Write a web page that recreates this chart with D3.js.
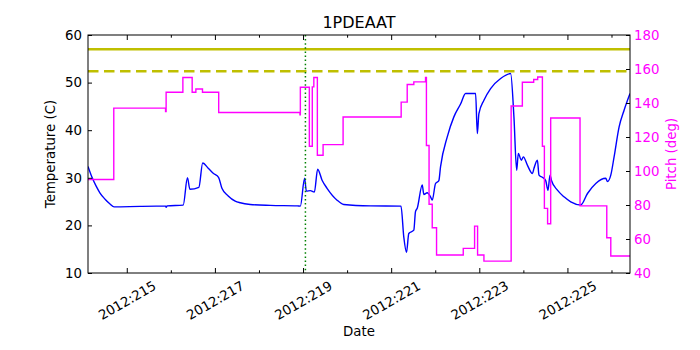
<!DOCTYPE html>
<html>
<head>
<meta charset="utf-8">
<script src="https://cdn.jsdelivr.net/npm/d3@7"></script>
<style>
  body { margin: 0; background: #fff; }
  svg { font-family: "DejaVu Sans", sans-serif; }
</style>
</head>
<body>
<script>
var w = 700;
var h = 350;

const margin = {top: 35, right: 70, bottom: 77, left: 88};
const width = w - margin.left - margin.right,
    height = h - margin.top - margin.bottom;

// day of year 2012
var tempDays = [214.12, 214.211, 214.302, 214.393, 214.507, 214.620, 214.711, 215.302, 215.882, 215.893, 215.916,
    216.280, 216.377, 216.432, 216.636, 216.723, 216.848, 216.968, 217.082, 217.159, 217.302, 217.461, 217.575,
    217.802, 218.257, 218.870, 218.939, 219.036, 219.075, 219.166, 219.257, 219.332, 219.432, 219.545, 219.773,
    219.923, 220.530, 221.223, 221.286, 221.348, 221.400, 221.514, 221.552, 221.591, 221.705, 221.741, 221.818,
    221.893, 221.932, 222.007, 222.082, 222.120, 222.273, 222.423, 222.575, 222.689, 222.916, 222.955, 222.991,
    223.105, 223.257, 223.484, 223.711, 223.786, 223.848, 223.886, 223.955, 224.000, 224.091, 224.205, 224.241,
    224.318, 224.355, 224.432, 224.507, 224.559, 224.605, 224.636, 224.773, 224.923, 225.075, 225.302, 225.455,
    225.643, 225.870, 225.909, 225.984, 226.059, 226.173, 226.286, 226.42];
var tempVals = [32.4, 30.1, 28.3, 26.8, 25.5, 24.5, 23.9, 24.0, 24.05, 23.8, 24.1,
    24.25, 30.0, 27.6, 28.0, 33.1, 32.0, 30.9, 30.1, 27.8, 26.2, 25.1, 24.75,
    24.4, 24.2, 24.1, 24.05, 29.9, 27.2, 27.3, 27.0, 31.8, 29.5, 27.8, 25.3,
    24.4, 24.1, 24.05, 17.6, 14.35, 18.3, 19.0, 22.9, 23.6, 28.5, 26.5, 26.85,
    26.0, 25.3, 28.8, 29.4, 32.3, 38.6, 42.8, 45.5, 47.7, 47.7, 39.3, 43.5,
    46.3, 48.75, 50.85, 51.9, 42.8, 31.6, 35.1, 33.7, 34.4, 32.65, 30.9, 32.0,
    33.7, 30.56, 30.1, 29.4, 27.4, 30.56, 29.5, 27.4, 26.0, 24.96, 24.3, 26.7,
    28.8, 29.9, 29.2, 30.56, 34.4, 40.7, 44.2, 47.7];

var pitchDays = [214.12, 214.705, 215.880, 215.893, 216.273, 216.484, 216.568, 216.718, 217.086, 218.930, 218.939,
    219.143, 219.210, 219.245, 219.325, 219.455, 219.909, 221.227, 221.364, 221.514, 221.780, 221.800, 221.860,
    221.932, 222.030, 222.636, 222.893, 222.961, 223.105, 223.723, 223.977, 224.234, 224.325, 224.432, 224.477,
    224.550, 224.620, 225.286, 225.893, 225.984, 226.42];
var pitchVals = [95, 137, 135, 146.3, 155, 146.3, 148.2, 146.3, 134.4, 133, 149.3,
    114.6, 149.5, 155, 109.3, 115.5, 131.8, 140.5, 150.9, 152.4, 155, 115, 80.4,
    66.6, 50.6, 54.5, 67.6, 50.6, 47, 138.2, 152.2, 153.8, 155.3, 114.6, 78,
    69, 131.2, 79.5, 60.7, 50, 50];

var labelDays = [215, 217, 219, 221, 223, 225];
var minorDays = [216, 218, 220, 222, 224, 226];
var tempTicks = [10, 20, 30, 40, 50, 60];
var pitchTicks = [40, 60, 80, 100, 120, 140, 160, 180];

var limitSolid = 57;
var limitDashed = 52.4;
var markDay = 219.054;

const svg = d3.select("body").append("svg")
    .attr("width", w)
    .attr("height", h);

const g = svg.append("g")
    .attr("transform", "translate(" + margin.left + "," + margin.top + ")");

var x = d3.scaleLinear().domain([214.12, 226.42]).range([0, width]);
var yT = d3.scaleLinear().domain([10, 60]).range([height, 0]);
var yP = d3.scaleLinear().domain([40, 180]).range([height, 0]);

g.append("clipPath").attr("id", "clip")
    .append("rect").attr("width", width).attr("height", height);

var plot = g.append("g").attr("clip-path", "url(#clip)");

var tempData = tempDays.map((d, i) => ({day: d, v: tempVals[i]}));
var pitchData = pitchDays.map((d, i) => ({day: d, v: pitchVals[i]}));

// temperature
plot.append("path")
    .datum(tempData)
    .attr("fill", "none")
    .attr("stroke", "#0000ff")
    .attr("stroke-width", 1.4)
    .attr("d", d3.line().curve(d3.curveMonotoneX).x(d => x(d.day)).y(d => yT(d.v)));

// limits
plot.append("line")
    .attr("x1", 0).attr("x2", width)
    .attr("y1", yT(limitSolid)).attr("y2", yT(limitSolid))
    .attr("stroke", "#bfbf00").attr("stroke-width", 2.5);

plot.append("line")
    .attr("x1", 0).attr("x2", width)
    .attr("y1", yT(limitDashed)).attr("y2", yT(limitDashed))
    .attr("stroke", "#bfbf00").attr("stroke-width", 2.5)
    .attr("stroke-dasharray", "10.5,5.5");

plot.append("line")
    .attr("x1", x(markDay)).attr("x2", x(markDay))
    .attr("y1", 0).attr("y2", height)
    .attr("stroke", "#008000").attr("stroke-width", 1.5)
    .attr("stroke-dasharray", "1.5,2.6");

// pitch on twin axis
plot.append("path")
    .datum(pitchData)
    .attr("fill", "none")
    .attr("stroke", "#ff00ff")
    .attr("stroke-width", 1.4)
    .attr("d", d3.line().curve(d3.curveStepAfter).x(d => x(d.day)).y(d => yP(d.v)));

// axes, ticks pointing in
var xMajor = g.append("g")
    .attr("transform", "translate(0," + height + ")")
    .call(d3.axisBottom(x).tickValues(labelDays).tickSize(-5).tickSizeOuter(0)
        .tickFormat(d => "2012:" + d));

xMajor.selectAll("text")
    .attr("y", null)
    .attr("dy", null)
    .attr("dominant-baseline", "central")
    .attr("transform", "translate(0,27.5) rotate(-30)");

g.append("g")
    .attr("transform", "translate(0," + height + ")")
    .call(d3.axisBottom(x).tickValues(minorDays).tickSize(-2.7).tickSizeOuter(0).tickFormat(""));

g.append("g")
    .call(d3.axisTop(x).tickValues(labelDays).tickSize(-5).tickSizeOuter(0).tickFormat(""));
g.append("g")
    .call(d3.axisTop(x).tickValues(minorDays).tickSize(-2.7).tickSizeOuter(0).tickFormat(""));

g.append("g")
    .call(d3.axisLeft(yT).tickValues(tempTicks).tickSize(-4).tickSizeOuter(0).tickPadding(6));

var right = g.append("g")
    .attr("transform", "translate(" + width + ",0)")
    .call(d3.axisRight(yP).tickValues(pitchTicks).tickSize(-4).tickSizeOuter(0).tickPadding(4));
right.selectAll("text").attr("fill", "#ff00ff");

g.selectAll(".domain").remove();
g.selectAll(".tick text").attr("font-size", 13.33).attr("font-family", "DejaVu Sans");
g.selectAll(".tick line").attr("stroke", "#000");

// frame
g.append("rect")
    .attr("width", width).attr("height", height)
    .attr("fill", "none").attr("stroke", "#000").attr("stroke-width", 1);

// labels
svg.append("text")
    .attr("x", margin.left + width / 2).attr("y", 22.5)
    .attr("text-anchor", "middle").attr("dominant-baseline", "central")
    .attr("font-size", 16)
    .text("1PDEAAT");

svg.append("text")
    .attr("x", margin.left + width / 2).attr("y", 331)
    .attr("text-anchor", "middle").attr("dominant-baseline", "central")
    .attr("font-size", 13.33)
    .text("Date");

svg.append("text")
    .attr("transform", "translate(50," + (margin.top + height / 2) + ") rotate(-90)")
    .attr("text-anchor", "middle").attr("dominant-baseline", "central")
    .attr("font-size", 13.33)
    .text("Temperature (C)");

svg.append("text")
    .attr("transform", "translate(671.5," + (margin.top + height / 2) + ") rotate(-90)")
    .attr("text-anchor", "middle").attr("dominant-baseline", "central")
    .attr("font-size", 13.33)
    .attr("fill", "#ff00ff")
    .text("Pitch (deg)");
</script>
</body>
</html>
